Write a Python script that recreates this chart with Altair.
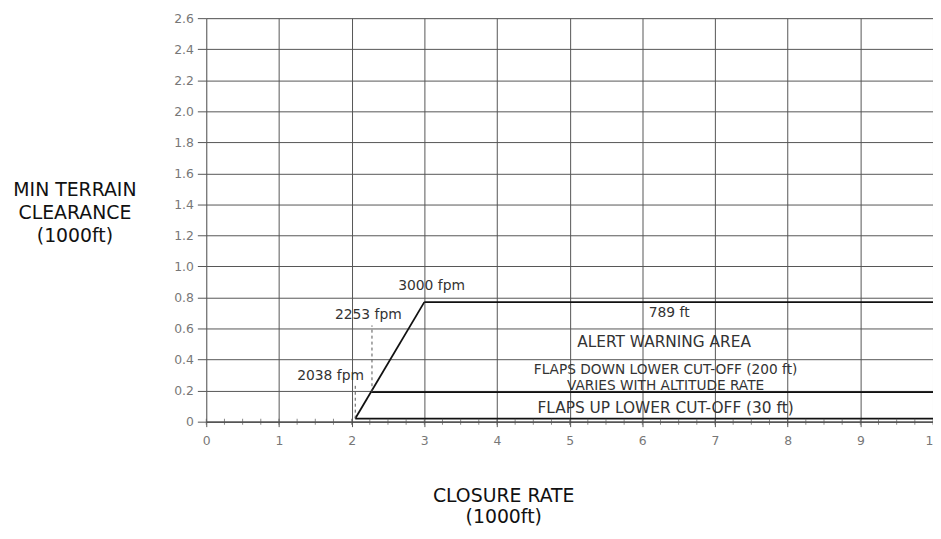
import altair as alt
import pandas as pd

# Axis ticks
x_ticks = [0, 1, 2, 3, 4, 5, 6, 7, 8, 9, 10]
y_ticks = [0, 0.2, 0.4, 0.6, 0.8, 1.0, 1.2, 1.4, 1.6, 1.8, 2.0, 2.2, 2.4, 2.6]
minor_x = [0, 0.25, 0.5, 0.75, 1, 1.25, 1.5, 1.75, 2, 2.25, 2.5, 2.75, 3, 3.25,
           3.5, 3.75, 4, 4.25, 4.5, 4.75, 5, 5.25, 5.5, 5.75, 6, 6.25, 6.5, 6.75,
           7, 7.25, 7.5, 7.75, 8, 8.25, 8.5, 8.75, 9, 9.25, 9.5, 9.75, 10]

# Warning-area outline segments (closure rate in 1000 fpm, clearance in 1000 ft)
seg_x1 = [2.05, 3.0, 2.27, 2.05]
seg_y1 = [0.02, 0.77, 0.19, 0.02]
seg_x2 = [3.0, 10.0, 10.0, 10.0]
seg_y2 = [0.77, 0.77, 0.19, 0.02]

# Dashed reference lines
dash_x = [2.28, 2.05]
dash_y1 = [0.19, 0.02]
dash_y2 = [0.62, 0.24]

# Annotations
label_text = ["3000 fpm", "2253 fpm", "2038 fpm", "789 ft", "ALERT WARNING AREA",
              "FLAPS DOWN LOWER CUT-OFF (200 ft)\nVARIES WITH ALTITUDE RATE",
              "FLAPS UP LOWER CUT-OFF (30 ft)"]
label_x = [3.1, 2.23, 1.71, 6.37, 6.30, 6.32, 6.32]
label_y = [0.877, 0.686, 0.293, 0.70, 0.516, 0.334, 0.087]
label_size = [14, 14, 14, 14, 15.5, 13.8, 15.5]

seg_df = pd.DataFrame({"x1": seg_x1, "y1": seg_y1, "x2": seg_x2, "y2": seg_y2})
dash_df = pd.DataFrame({"x": dash_x, "y1": dash_y1, "y2": dash_y2})
lab_df = pd.DataFrame({"x": label_x, "y": label_y, "text": label_text, "size": label_size})
minor_df = pd.DataFrame({"x": minor_x, "y": [0] * len(minor_x)})

xscale = alt.Scale(domain=[0, 10], nice=False, zero=False)
yscale = alt.Scale(domain=[0, 2.6], nice=False, zero=False)

x_axis = alt.Axis(
    values=x_ticks, grid=True, gridColor="#555", gridWidth=1, gridOpacity=1,
    tickSize=5, tickColor="#555", domain=True, domainColor="#444", domainWidth=1.2,
    labelPadding=8, labelColor="#777", labelFontSize=12.5, labelFont="DejaVu Sans",
    labelFlush=False, format="d",
    title=["CLOSURE RATE", "(1000ft)"], titleFont="DejaVu Sans", titleFontSize=19,
    titleFontWeight="normal", titleColor="#111", titleLineHeight=21,
    titleX=299.5, titleY=81, titleAlign="center", titleBaseline="alphabetic",
    titleAnchor="start",
)
y_axis = alt.Axis(
    values=y_ticks, grid=True, gridColor="#555", gridWidth=1, gridOpacity=1,
    tickSize=9, tickColor="#555", domain=False,
    labelPadding=4, labelColor="#777", labelFontSize=12.5, labelFont="DejaVu Sans",
    labelExpr="datum.value == 0 ? '0' : format(datum.value, '.1f')",
    labelFlush=False, labelOverlap=False,
    title=["MIN TERRAIN", "CLEARANCE", "(1000ft)"], titleFont="DejaVu Sans",
    titleFontSize=19, titleFontWeight="normal", titleColor="#111", titleLineHeight=23,
    titleAngle=0, titleX=-133, titleY=179, titleAlign="center",
    titleBaseline="alphabetic", titleAnchor="start",
)

segments = alt.Chart(seg_df).mark_rule(color="#111", strokeWidth=1.8).encode(
    x=alt.X("x1:Q", scale=xscale, axis=x_axis),
    y=alt.Y("y1:Q", scale=yscale, axis=y_axis),
    x2="x2:Q",
    y2="y2:Q",
)

dashes = alt.Chart(dash_df).mark_rule(color="#555", strokeWidth=1, strokeDash=[3, 3]).encode(
    x=alt.X("x:Q", scale=xscale, axis=x_axis),
    y=alt.Y("y1:Q", scale=yscale, axis=y_axis),
    y2="y2:Q",
)

minor = alt.Chart(minor_df).mark_tick(orient="vertical", size=6, thickness=1, color="#555").encode(
    x=alt.X("x:Q", scale=xscale, axis=x_axis),
    y=alt.Y("y:Q", scale=yscale, axis=y_axis),
)

labels = alt.Chart(lab_df).mark_text(
    font="DejaVu Sans", color="#333", align="center", baseline="middle",
    lineBreak="\n", lineHeight=16,
).encode(
    x=alt.X("x:Q", scale=xscale, axis=x_axis),
    y=alt.Y("y:Q", scale=yscale, axis=y_axis),
    text="text:N",
    size=alt.Size("size:Q", scale=None, legend=None),
)

chart = alt.layer(segments, dashes, minor, labels).properties(
    width=733, height=407,
    autosize=alt.AutoSizeParams(type="none"),
    padding={"left": 200, "top": 8, "right": 0, "bottom": 103},
).configure_view(strokeWidth=0).configure(background="white")

chart.save("out.html", embed_options={"renderer": "svg", "actions": False})
